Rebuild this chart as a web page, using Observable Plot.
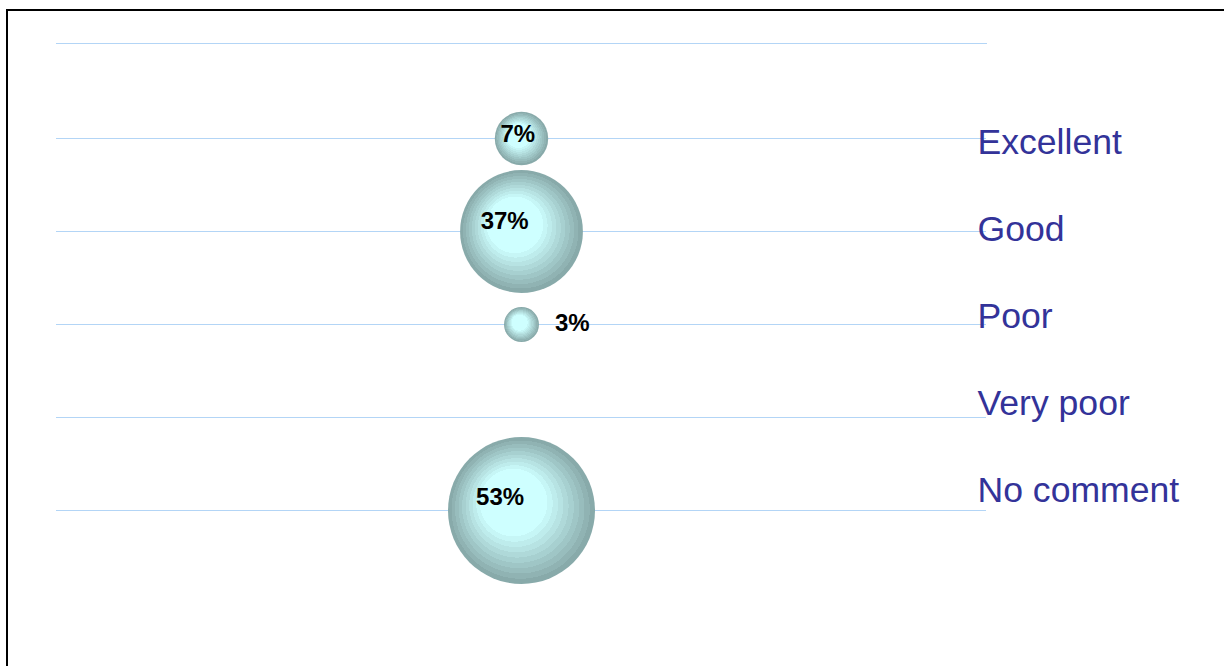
<!DOCTYPE html>
<html><head><meta charset="utf-8">
<script src="https://cdn.jsdelivr.net/npm/d3@7"></script>
<script src="https://cdn.jsdelivr.net/npm/@observablehq/plot@0.6"></script>
<style>
html,body{margin:0;padding:0;background:#fff;}
#wrap{position:relative;width:1224px;height:666px;overflow:hidden;background:#fff;}
#wrap svg{position:absolute;left:0;top:0;}
#border{position:absolute;left:6px;top:9px;width:1300px;height:700px;border-left:2px solid #000;border-top:2px solid #000;z-index:5;pointer-events:none;}
</style></head><body>
<div id="wrap"><div id="border"></div></div>
<script>
// ---- data ----
const categories = ["Excellent", "Good", "Poor", "Very poor", "No comment"];
const shares = [7, 37, 3, 0, 53];
const shareLabels = ["7%", "37%", "3%", "", "53%"];

const rows = categories.map((c, i) => ({category: c, value: shares[i], label: shareLabels[i]}));
const bubbles = rows.filter(d => d.value > 0);

const font = "Arial, 'Liberation Sans', Helvetica, sans-serif";
const gridColor = "#b3d5f6";
const rOptions = {type: "sqrt", domain: [0, d3.max(shares)], range: [0, 73.5]};
const rScale = Plot.scale({r: rOptions});

// radial gradient with stepped bands (Excel-like bubble shading)
function gradientDefs() {
  const defs = d3.create("svg:defs");
  const g = defs.append("radialGradient").attr("id", "bubbleGrad")
    .attr("cx", "50%").attr("cy", "50%").attr("r", "50%").attr("fx", "40%").attr("fy", "40%");
  const n = 10;
  const interp = d3.interpolateRgb("#ceffff", "#88aaaa");
  const start = 0.46;
  for (let k = 0; k < n; k++) {
    const c = interp(k / (n - 1));
    const a = k === 0 ? 0 : start + (1 - start) * (k - 1) / (n - 1);
    const b = start + (1 - start) * k / (n - 1);
    g.append("stop").attr("offset", a).attr("stop-color", c);
    g.append("stop").attr("offset", Math.min(1, b)).attr("stop-color", c);
  }
  return defs.node();
}

// value labels: inside near the highlight for large bubbles, outside right for small ones
const labelMarks = bubbles.map(d => {
  const r = rScale.apply(d.value);
  const inside = d.value >= 5;
  return Plot.text([d], {
    y: "category",
    text: "label",
    textAnchor: inside ? "middle" : "start",
    dx: inside ? -(0.38 * r - 6.5) : r + 16,
    dy: inside ? -0.18 * r + 0.5 : -1,
    fontSize: 24,
    fontWeight: "bold",
    fill: "#000"
  });
});

const main = Plot.plot({
  width: 1224,
  height: 666,
  marginLeft: 56,
  marginRight: 238,
  marginTop: 43,
  marginBottom: 62,
  style: {fontFamily: font, background: "transparent"},
  y: {type: "point", domain: categories, padding: 1, axis: null},
  r: rOptions,
  marks: [
    gradientDefs,
    Plot.frame({anchor: "top", stroke: gridColor, strokeWidth: 1}),
    Plot.ruleY(categories, {stroke: gridColor, strokeWidth: 1}),
    Plot.dot(bubbles, {y: "category", r: "value", fill: "url(#bubbleGrad)", stroke: "none"}),
    ...labelMarks
  ]
});

const labels = Plot.plot({
  width: 1224,
  height: 666,
  marginLeft: 977,
  marginRight: 0,
  marginTop: 0,
  marginBottom: 0,
  style: {fontFamily: font, background: "transparent"},
  y: {type: "point", domain: categories, range: [141.8, 490.8], padding: 0, axis: null},
  marks: [
    Plot.text(categories, {y: d => d, text: d => d, frameAnchor: "left", textAnchor: "start",
      fontSize: 35.6, fill: "#333399"})
  ]
});

const wrap = document.getElementById("wrap");
wrap.insertBefore(main, wrap.firstChild);
wrap.insertBefore(labels, wrap.firstChild.nextSibling);
</script>
</body></html>
